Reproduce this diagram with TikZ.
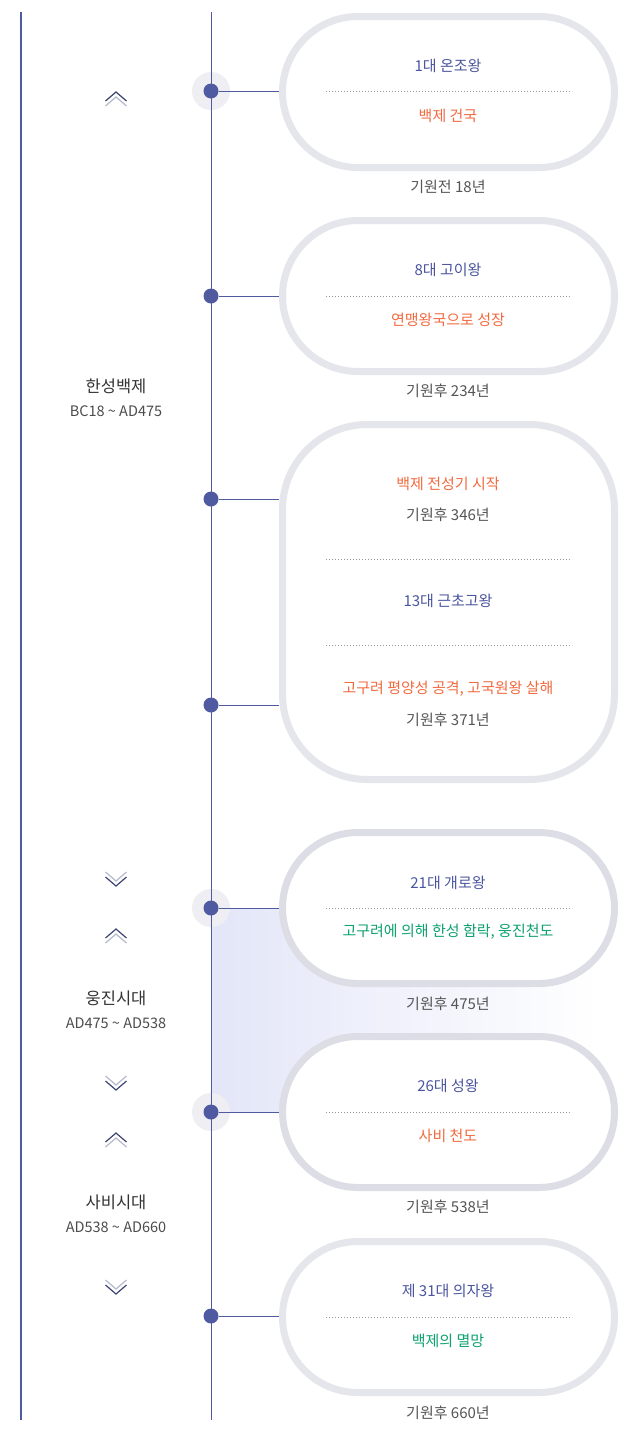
\documentclass[tikz,border=0pt]{standalone}
\usepackage{fontspec}
\setmainfont{Noto Sans CJK KR}
\usetikzlibrary{calc}
\definecolor{navy}{HTML}{4B559F}
\definecolor{dotc}{HTML}{505AA0}
\definecolor{orng}{HTML}{F26A3F}
\definecolor{grn}{HTML}{0DA170}
\definecolor{capc}{HTML}{555555}
\definecolor{headc}{HTML}{333333}
\definecolor{boxb}{HTML}{E5E6EB}
\definecolor{boxbd}{HTML}{DCDDE5}
\definecolor{haloc}{HTML}{EFEFF3}
\definecolor{grad}{HTML}{E3E6F8}
\definecolor{chevd}{HTML}{3C4370}
\definecolor{chevl}{HTML}{B5B9CC}
\tikzset{
  pill/.style={draw=boxb, line width=7pt, fill=white, inner sep=0pt,
    minimum width=332pt, minimum height=151pt, rounded corners=75.5pt},
  bigbox/.style={draw=boxb, line width=7pt, fill=white, inner sep=0pt,
    minimum width=332pt, minimum height=355pt, rounded corners=85pt},
  dotn/.style={circle, fill=dotc, inner sep=0pt, minimum size=15pt},
  halo/.style={circle, fill=haloc, inner sep=0pt, minimum size=38pt},
  conn/.style={draw=dotc, line width=0.9pt},
  sepline/.style={draw=gray!80, line width=0.8pt, dash pattern=on 0.8pt off 2.2pt},
  tnavy/.style={text=navy, font=\fontsize{15}{17}\selectfont, inner sep=0pt},
  torng/.style={text=orng, font=\fontsize{15}{17}\selectfont, inner sep=0pt},
  tgrn/.style={text=grn, font=\fontsize{15}{17}\selectfont, inner sep=0pt},
  tcap/.style={text=capc, font=\fontsize{15}{17}\selectfont, inner sep=0pt},
  thead/.style={text=headc, font=\fontsize{16.5}{18}\selectfont, inner sep=0pt},
  tdate/.style={text=capc!90!black, font=\fontsize{14.5}{16}\selectfont, inner sep=0pt},
  chev/.style={line width=1.2pt},
}
\newcommand{\chevup}[2]{%
  \draw[chev, chevl] (#1-10.5,#2+7) -- (#1,#2-2) -- (#1+10.5,#2+7);
  \draw[chev, chevd] (#1-10.5,#2+2) -- (#1,#2-7) -- (#1+10.5,#2+2);}
\newcommand{\chevdown}[2]{%
  \draw[chev, chevl] (#1-10.5,#2-7) -- (#1,#2+2) -- (#1+10.5,#2-7);
  \draw[chev, chevd] (#1-10.5,#2-2) -- (#1,#2+7) -- (#1+10.5,#2-2);}
\begin{document}
\begin{tikzpicture}[x=1pt,y=-1pt]
\useasboundingbox (0,0) rectangle (640,1435);
\fill[white] (0,0) rectangle (640,1435);
% gradient band
\shade[left color=grad, right color=white] (211,908) rectangle (600,1112);
% halos
\node[halo] (h1) at (211,91) {};
\node[halo] (h4) at (211,908) {};
\node[halo] (h5) at (211,1112) {};
% axis lines
\coordinate (la) at (21,12);
\coordinate (lb) at (21,1420);
\coordinate (ta) at (211,12);
\coordinate (tb) at (211,1420);
\draw[dotc, line width=2pt] (la) -- (lb);
\draw[dotc, line width=0.9pt] (ta) -- (tb);
% boxes
\node[pill] (b1) at (448.5,92) {};
\node[pill] (b2) at (448.5,296) {};
\node[bigbox] (b3) at (448.5,602) {};
\node[pill, draw=boxbd] (b4) at (448.5,908) {};
\node[pill, draw=boxbd] (b5) at (448.5,1112) {};
\node[pill] (b6) at (448.5,1317) {};
% dots
\node[dotn] (d1) at (211,91) {};
\node[dotn] (d2) at (211,296) {};
\node[dotn] (d3) at (211,499) {};
\node[dotn] (d4) at (211,705) {};
\node[dotn] (d5) at (211,908) {};
\node[dotn] (d6) at (211,1112) {};
\node[dotn] (d7) at (211,1316) {};
% connectors
\draw[conn] (d1) -- (d1 -| b1.west);
\draw[conn] (d2) -- (d2 -| b2.west);
\draw[conn] (d3) -- (d3 -| b3.west);
\draw[conn] (d4) -- (d4 -| b3.west);
\draw[conn] (d5) -- (d5 -| b4.west);
\draw[conn] (d6) -- (d6 -| b5.west);
\draw[conn] (d7) -- (d7 -| b6.west);
% separators
\draw[sepline] (326,91) -- (572,91);
\draw[sepline] (326,296) -- (572,296);
\draw[sepline] (326,559) -- (572,559);
\draw[sepline] (326,645) -- (572,645);
\draw[sepline] (326,908) -- (572,908);
\draw[sepline] (326,1112) -- (572,1112);
\draw[sepline] (326,1317) -- (572,1317);
% box texts
\node[tnavy] (t1a) at (448,66) {1대 온조왕};
\node[torng] (t1b) at (448,116) {백제 건국};
\node[tcap] (c1) at (448,187) {기원전 18년};
\node[tnavy] (t2a) at (448,270) {8대 고이왕};
\node[torng] (t2b) at (448,320) {연맹왕국으로 성장};
\node[tcap] (c2) at (448,391) {기원후 234년};
\node[torng] (t3a) at (448,484) {백제 전성기 시작};
\node[tcap] (t3b) at (448,515) {기원후 346년};
\node[tnavy] (t3c) at (448,601) {13대 근초고왕};
\node[torng] (t3d) at (448,689) {고구려 평양성 공격, 고국원왕 살해};
\node[tcap] (t3e) at (448,720) {기원후 371년};
\node[tnavy] (t4a) at (448,883) {21대 개로왕};
\node[tgrn] (t4b) at (448,932) {고구려에 의해 한성 함락, 웅진천도};
\node[tcap] (c4) at (448,1004) {기원후 475년};
\node[tnavy] (t5a) at (448,1086) {26대 성왕};
\node[torng] (t5b) at (448,1136) {사비 천도};
\node[tcap] (c5) at (448,1207) {기원후 538년};
\node[tnavy] (t6a) at (448,1291) {제 31대 의자왕};
\node[tgrn] (t6b) at (448,1341) {백제의 멸망};
\node[tcap] (c6) at (448,1413) {기원후 660년};
% left labels
\node[thead] (p1) at (116,386) {한성백제};
\node[tdate] (q1) at (116,411) {BC18 \textasciitilde{} AD475};
\node[thead] (p2) at (116,998) {웅진시대};
\node[tdate] (q2) at (116,1023) {AD475 \textasciitilde{} AD538};
\node[thead] (p3) at (116,1202) {사비시대};
\node[tdate] (q3) at (116,1227) {AD538 \textasciitilde{} AD660};
% chevrons
\chevup{116}{99}
\chevdown{116}{879}
\chevup{116}{936}
\chevdown{116}{1083}
\chevup{116}{1140}
\chevdown{116}{1287}
\end{tikzpicture}
\end{document}
